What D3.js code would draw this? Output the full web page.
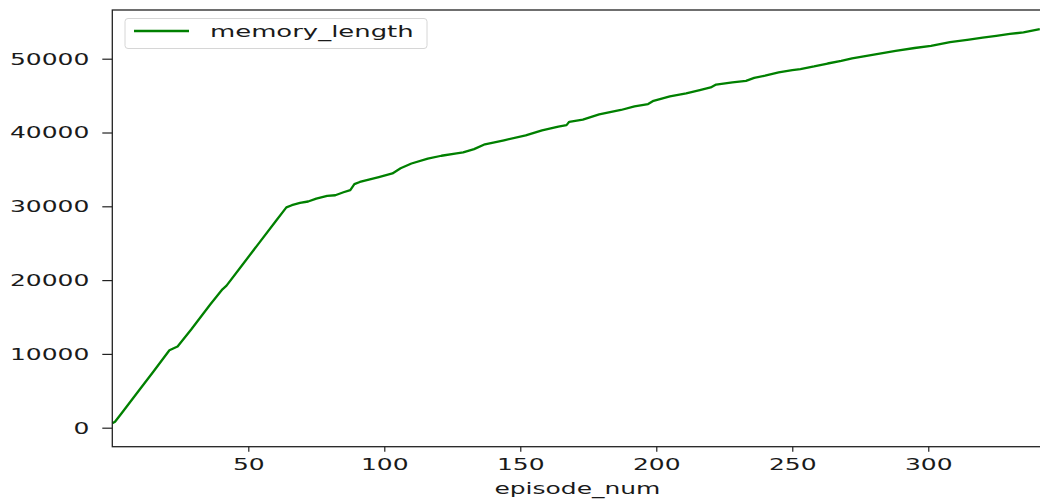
<!DOCTYPE html>
<html>
<head>
<meta charset="utf-8">
<script src="https://cdn.jsdelivr.net/npm/d3@7"></script>
<style>
  html, body { margin: 0; padding: 0; background: #fff; }
  svg { display: block; }
  text { font-family: "DejaVu Sans", sans-serif; fill: #1a1a1a; }
</style>
</head>
<body>
<svg id="chart" width="1040" height="501"></svg>
<script>
// Replay memory size after each episode
const episodes = [0, 1, 3, 10, 15, 21, 24, 29, 36, 40.5, 42, 48, 54, 60, 64, 66, 69, 72, 75, 79, 82, 85, 87.5, 89, 91, 98, 103, 106, 110, 116, 121, 126, 129, 133, 137, 144, 152, 158, 164, 167, 168, 173, 179, 187, 192, 197, 199, 205, 211, 216, 220, 222, 228, 233, 236, 240, 245, 250, 253, 258, 263, 268, 272, 280, 288, 295, 301, 308, 315, 320, 325, 330, 335, 341];
const memoryLength = [600, 800, 1750, 5150, 7550, 10500, 11000, 13300, 16700, 18750, 19250, 22150, 25050, 27950, 29850, 30150, 30450, 30650, 31050, 31400, 31500, 31900, 32200, 33000, 33300, 33950, 34450, 35150, 35800, 36450, 36850, 37150, 37300, 37750, 38400, 38950, 39600, 40300, 40800, 41000, 41450, 41750, 42450, 43050, 43550, 43850, 44300, 44900, 45300, 45750, 46100, 46500, 46800, 47000, 47400, 47700, 48150, 48450, 48600, 48950, 49350, 49700, 50050, 50550, 51050, 51450, 51750, 52250, 52600, 52850, 53100, 53350, 53580, 54000];
const xTicks = [50, 100, 150, 200, 250, 300];
const yTicks = [0, 10000, 20000, 30000, 40000, 50000];
const seriesName = "memory_length";
const xLabel = "episode_num";

const data = episodes.map((e, i) => ({ x: e, y: memoryLength[i] }));

const svg = d3.select("#chart");
const plotLeft = 112.3, plotRight = 1042.5, plotTop = 10, plotBottom = 446.7;
const sx = 1.56;          // horizontal text stretch
const fontSize = 16;

const x = d3.scaleLinear().domain([0, 342]).range([plotLeft, plotRight]);
const y = d3.scaleLinear().domain([-2575, 56600]).range([plotBottom, plotTop]);

// line
const line = d3.line().x(d => x(d.x)).y(d => y(d.y));
svg.append("path")
  .datum(data)
  .attr("d", line)
  .attr("fill", "none")
  .attr("stroke", "#008000")
  .attr("stroke-width", 2.3)
  .attr("stroke-linejoin", "round");

// axes
const yAxis = svg.append("g")
  .attr("transform", `translate(${plotLeft},0)`)
  .call(d3.axisLeft(y).tickValues(yTicks).tickSizeInner(10).tickSizeOuter(0).tickFormat(d3.format("d")));
yAxis.select(".domain").remove();
yAxis.selectAll(".tick line").attr("stroke", "#222").attr("stroke-width", 1.2);
yAxis.selectAll(".tick text")
  .attr("x", null).attr("dy", null)
  .attr("transform", `translate(-23,0) scale(${sx},1)`)
  .attr("dominant-baseline", "central")
  .attr("text-anchor", "end")
  .style("font-size", fontSize + "px")
  .style("font-family", "DejaVu Sans")
  .attr("fill", "#1a1a1a");

const xAxis = svg.append("g")
  .attr("transform", `translate(0,${plotBottom})`)
  .call(d3.axisBottom(x).tickValues(xTicks).tickSizeInner(5).tickSizeOuter(0).tickFormat(d3.format("d")));
xAxis.select(".domain").remove();
xAxis.selectAll(".tick line").attr("stroke", "#222").attr("stroke-width", 1.2);
xAxis.selectAll(".tick text")
  .attr("y", null).attr("dy", null)
  .attr("transform", `translate(0,18) scale(${sx},1)`)
  .attr("dominant-baseline", "central")
  .attr("text-anchor", "middle")
  .style("font-size", fontSize + "px")
  .style("font-family", "DejaVu Sans")
  .attr("fill", "#1a1a1a");

// spines
svg.append("rect")
  .attr("x", plotLeft).attr("y", plotTop)
  .attr("width", plotRight - plotLeft).attr("height", plotBottom - plotTop)
  .attr("fill", "none").attr("stroke", "#222").attr("stroke-width", 1.3);

// x label
svg.append("text")
  .attr("transform", `translate(${(plotLeft + plotRight) / 2},${plotBottom + 42}) scale(${sx},1)`)
  .attr("text-anchor", "middle")
  .attr("dominant-baseline", "central")
  .style("font-size", fontSize + "px")
  .text(xLabel);

// legend
const lg = svg.append("g");
lg.append("rect")
  .attr("x", 125).attr("y", 18.5).attr("width", 302).attr("height", 30)
  .attr("rx", 3).attr("fill", "#fff").attr("fill-opacity", 0.85)
  .attr("stroke", "#d6d6d6").attr("stroke-width", 1);
lg.append("line")
  .attr("x1", 134).attr("x2", 189).attr("y1", 31).attr("y2", 31)
  .attr("stroke", "#008000").attr("stroke-width", 2.3);
lg.append("text")
  .attr("transform", `translate(210,31) scale(1.62,1)`)
  .attr("dominant-baseline", "central")
  .style("font-size", fontSize + "px")
  .text(seriesName);
</script>
</body>
</html>
